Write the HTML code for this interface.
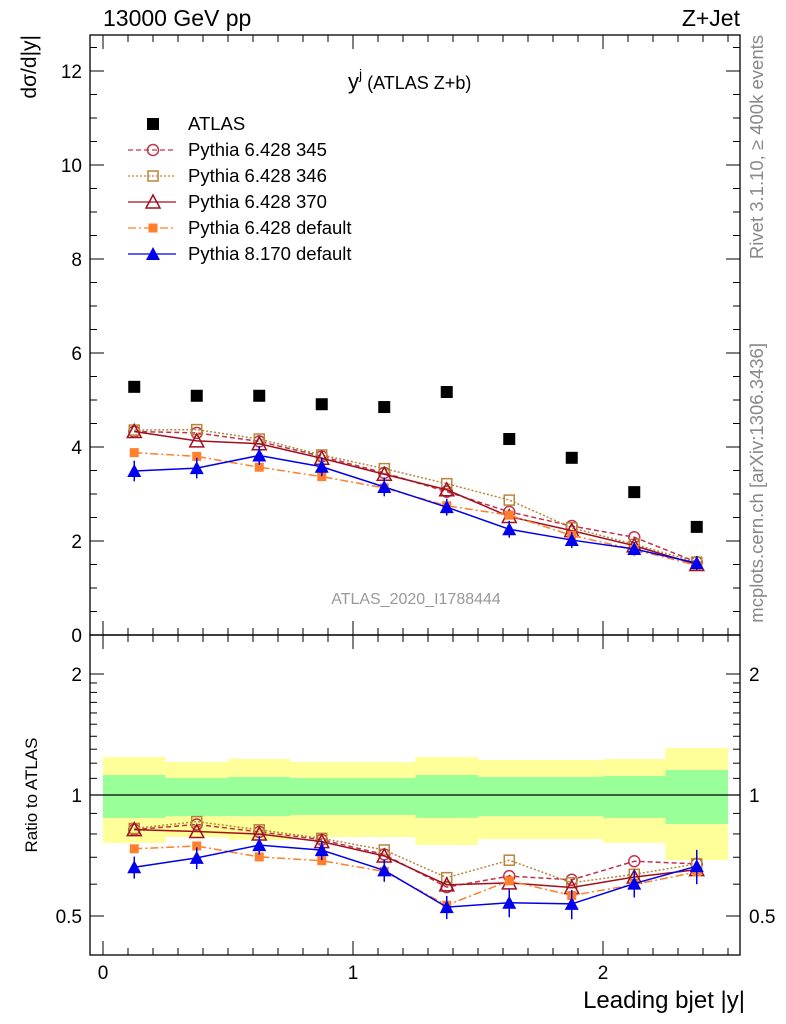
<!DOCTYPE html>
<html><head><meta charset="utf-8">
<style>
body{margin:0;background:#fff;}
svg{display:block;font-family:"Liberation Sans",sans-serif;}
</style></head>
<body>
<svg id="c" width="786" height="1024" viewBox="0 0 786 1024"></svg>
<script>
const binEdges=[0,0.25,0.5,0.75,1,1.25,1.5,1.75,2,2.25,2.5];
const atlasVals=[5.28,5.09,5.09,4.91,4.85,5.17,4.17,3.77,3.04,2.30];
const p345=[4.33,4.30,4.12,3.80,3.45,3.05,2.62,2.32,2.08,1.55];
const p346=[4.36,4.37,4.17,3.83,3.54,3.22,2.87,2.28,1.93,1.55];
const p370=[4.33,4.13,4.07,3.76,3.42,3.09,2.52,2.22,1.90,1.50];
const p6def=[3.88,3.80,3.57,3.37,3.13,2.75,2.55,2.12,1.82,1.48];
const p8def=[3.49,3.55,3.82,3.58,3.15,2.72,2.25,2.02,1.83,1.53];
const p8err=[0.22,0.22,0.20,0.20,0.20,0.18,0.18,0.17,0.14,0.15];
const bandYelHi=[1.243,1.208,1.229,1.208,1.208,1.243,1.222,1.222,1.229,1.309];
const bandYelLo=[0.760,0.786,0.773,0.786,0.786,0.751,0.777,0.777,0.760,0.689];
const bandGrnHi=[1.121,1.102,1.109,1.102,1.102,1.121,1.109,1.109,1.115,1.154];
const bandGrnLo=[0.877,0.886,0.886,0.892,0.892,0.877,0.886,0.886,0.877,0.847];
const mainTicks=[0,2,4,6,8,10,12];
const ratioTicks=[0.5,1,2];
const xTicks=[0,1,2];

const NS="http://www.w3.org/2000/svg";
const svg=document.getElementById('c');
function el(tag,attrs,parent){const e=document.createElementNS(NS,tag);for(const k in attrs)e.setAttribute(k,attrs[k]);(parent||svg).appendChild(e);return e;}
const L=90,R=740,T=35,M=635,B=955;
const X=v=>103+(v)*250;
const Y=v=>635-v*47;
const RY=v=>795-Math.log2(v)*121;

for(let i=0;i<10;i++){
  let r=el('rect',{x:X(binEdges[i]),y:RY(bandYelHi[i]),width:X(binEdges[i+1])-X(binEdges[i]),height:RY(bandYelLo[i])-RY(bandYelHi[i]),fill:'#ffff99'});
  
  
  let g=el('rect',{x:X(binEdges[i]),y:RY(bandGrnHi[i]),width:X(binEdges[i+1])-X(binEdges[i]),height:RY(bandGrnLo[i])-RY(bandGrnHi[i]),fill:'#99ff99'});
  
  
}
el('line',{x1:L,x2:R,y1:RY(1),y2:RY(1),stroke:'#000','stroke-width':1.3});

let f1=el('rect',{x:L,y:T,width:R-L,height:M-T,fill:'none',stroke:'#000','stroke-width':1.3});

let f2=el('rect',{x:L,y:M,width:R-L,height:B-M,fill:'none',stroke:'#000','stroke-width':1.3});


function txt(s,x,y,attrs,name){const t=el('text',Object.assign({x:x,y:y,'font-size':18,fill:'#000'},attrs||{}));t.textContent=s;return t;}

for(let v=0;v<=12.7;v+=0.5){
  const y=Y(v);const maj=Math.abs(v%2)<1e-6;const len=maj?14:7;
  el('line',{x1:L,x2:L+len,y1:y,y2:y,stroke:'#000'});el('line',{x1:R,x2:R-len,y1:y,y2:y,stroke:'#000'});
}
mainTicks.forEach(v=>txt(String(v),82,Y(v)+7,{'text-anchor':'end','font-size':19},'y-tick-label'));
const rmin=[0.5,0.6,0.7,0.8,0.9,1,1.1,1.2,1.3,1.4,1.5,1.6,1.7,1.8,1.9,2];
rmin.forEach(v=>{const y=RY(v);const maj=ratioTicks.includes(v);const len=maj?14:7;
  el('line',{x1:L,x2:L+len,y1:y,y2:y,stroke:'#000'});el('line',{x1:R,x2:R-len,y1:y,y2:y,stroke:'#000'});});
ratioTicks.forEach(v=>{txt(String(v),82,RY(v)+7,{'text-anchor':'end','font-size':19},'ratio-tick-label-left');txt(String(v),749,RY(v)+7,{'font-size':19},'ratio-tick-label-right');});
for(let i=0;i<=25;i++){const v=i/10;const x=X(v);const maj=i%10===0;const len=maj?14:7;
  el('line',{x1:x,x2:x,y1:B,y2:B-len,stroke:'#000'});el('line',{x1:x,x2:x,y1:M,y2:M-len,stroke:'#000'});el('line',{x1:x,x2:x,y1:M,y2:M+len,stroke:'#000'});el('line',{x1:x,x2:x,y1:T,y2:T+len,stroke:'#000'});}
xTicks.forEach(v=>txt(String(v),X(v),979,{'text-anchor':'middle','font-size':19},'x-tick-label'));

txt('13000 GeV pp',103,26,{'font-size':23},'energy-label');
txt('Z+Jet',740,26,{'font-size':23,'text-anchor':'end'},'process-label');
txt('Leading bjet |y|',745,1008,{'font-size':24,'text-anchor':'end'},'x-axis-title');
txt('dσ/d|y|',0,0,{'font-size':21,'text-anchor':'end',transform:'translate(36,35) rotate(-90)'},'y-axis-title');
txt('Ratio to ATLAS',0,0,{'font-size':17,'text-anchor':'middle',transform:'translate(37,795) rotate(-90)'},'ratio-axis-title');
txt('Rivet 3.1.10, ≥ 400k events',0,0,{'font-size':18.5,fill:'#888','text-anchor':'end',transform:'translate(763,35) rotate(-90)'},'rivet-label');
txt('mcplots.cern.ch [arXiv:1306.3436]',0,0,{'font-size':18.5,fill:'#888','text-anchor':'end',transform:'translate(763,343) rotate(-90)'},'mcplots-label');
txt('ATLAS_2020_I1788444',416,604,{'font-size':16,fill:'#999','text-anchor':'middle'},'analysis-id');
let tt=txt('y',348,89,{'font-size':22},'plot-title');
let sup=el('tspan',{dy:-10,'font-size':14});sup.textContent='j';tt.appendChild(sup);
let rest=el('tspan',{dy:10,'font-size':18});rest.textContent=' (ATLAS Z+b)';tt.appendChild(rest);

function marker(kind,x,y,col,name){
  let m;
  if(kind==='sq') m=el('rect',{x:x-6,y:y-6,width:12,height:12,fill:col});
  else if(kind==='osq') m=el('rect',{x:x-5,y:y-5,width:10,height:10,fill:'none',stroke:col,'stroke-width':1.5});
  else if(kind==='oc') m=el('circle',{cx:x,cy:y,r:5.5,fill:'none',stroke:col,'stroke-width':1.5});
  else if(kind==='otri') m=el('polygon',{points:`${x},${y-7} ${x-7},${y+6} ${x+7},${y+6}`,fill:'none',stroke:col,'stroke-width':1.5});
  else if(kind==='tri') m=el('polygon',{points:`${x},${y-7} ${x-7},${y+6} ${x+7},${y+6}`,fill:col});
  else if(kind==='fsq') m=el('rect',{x:x-4.5,y:y-4.5,width:9,height:9,fill:col});
  
  
}
const series=[
 {d:p345,col:'#c0334d',dash:'5,3',mk:'oc',n:'pythia-6428-345'},
 {d:p346,col:'#b8863b',dash:'2,2',mk:'osq',n:'pythia-6428-346'},
 {d:p370,col:'#a0101e',dash:'',mk:'otri',n:'pythia-6428-370'},
 {d:p6def,col:'#ff7f2a',dash:'8,3,2,3',mk:'fsq',n:'pythia-6428-default'},
 {d:p8def,col:'#0000ee',dash:'',mk:'tri',n:'pythia-8170-default',err:p8err},
];
const ctr=i=>(binEdges[i]+binEdges[i+1])/2;
series.forEach(s=>{
  const pts=s.d.map((v,i)=>X(ctr(i))+','+Y(v)).join(' ');
  const rp=s.d.map((v,i)=>X(ctr(i))+','+RY(v/atlasVals[i])).join(' ');
  let a=el('polyline',{points:pts,fill:'none',stroke:s.col,'stroke-width':1.5,'stroke-dasharray':s.dash});
  
  let b=el('polyline',{points:rp,fill:'none',stroke:s.col,'stroke-width':1.5,'stroke-dasharray':s.dash});
  
  s.d.forEach((v,i)=>{
    const x=X(ctr(i));
    if(s.err){
      el('line',{x1:x,x2:x,y1:Y(v-s.err[i]),y2:Y(v+s.err[i]),stroke:s.col,'stroke-width':1.5});
      el('line',{x1:x,x2:x,y1:RY((v-s.err[i])/atlasVals[i]),y2:RY((v+s.err[i])/atlasVals[i]),stroke:s.col,'stroke-width':1.5});
    }
    marker(s.mk,x,Y(v),s.col,s.n+'-point');
    marker(s.mk,x,RY(v/atlasVals[i]),s.col,s.n+'-ratio-point');
  });
});
atlasVals.forEach((v,i)=>marker('sq',X(ctr(i)),Y(v),'#000','atlas-point'));

const leg=[['ATLAS','#000','','sq'],['Pythia 6.428 345','#c0334d','5,3','oc'],['Pythia 6.428 346','#b8863b','2,2','osq'],['Pythia 6.428 370','#a0101e','','otri'],['Pythia 6.428 default','#ff7f2a','8,3,2,3','fsq'],['Pythia 8.170 default','#0000ee','','tri']];
leg.forEach((e,i)=>{
  const y=124+i*26;
  if(i>0){let l=el('line',{x1:128,x2:176,y1:y,y2:y,stroke:e[1],'stroke-width':1.3,'stroke-dasharray':e[2]});}
  marker(e[3],153,y,e[1],'legend-marker');
  txt(e[0],188,y+6,{'font-size':18.5},'legend-entry');
});
</script>
</body></html>
